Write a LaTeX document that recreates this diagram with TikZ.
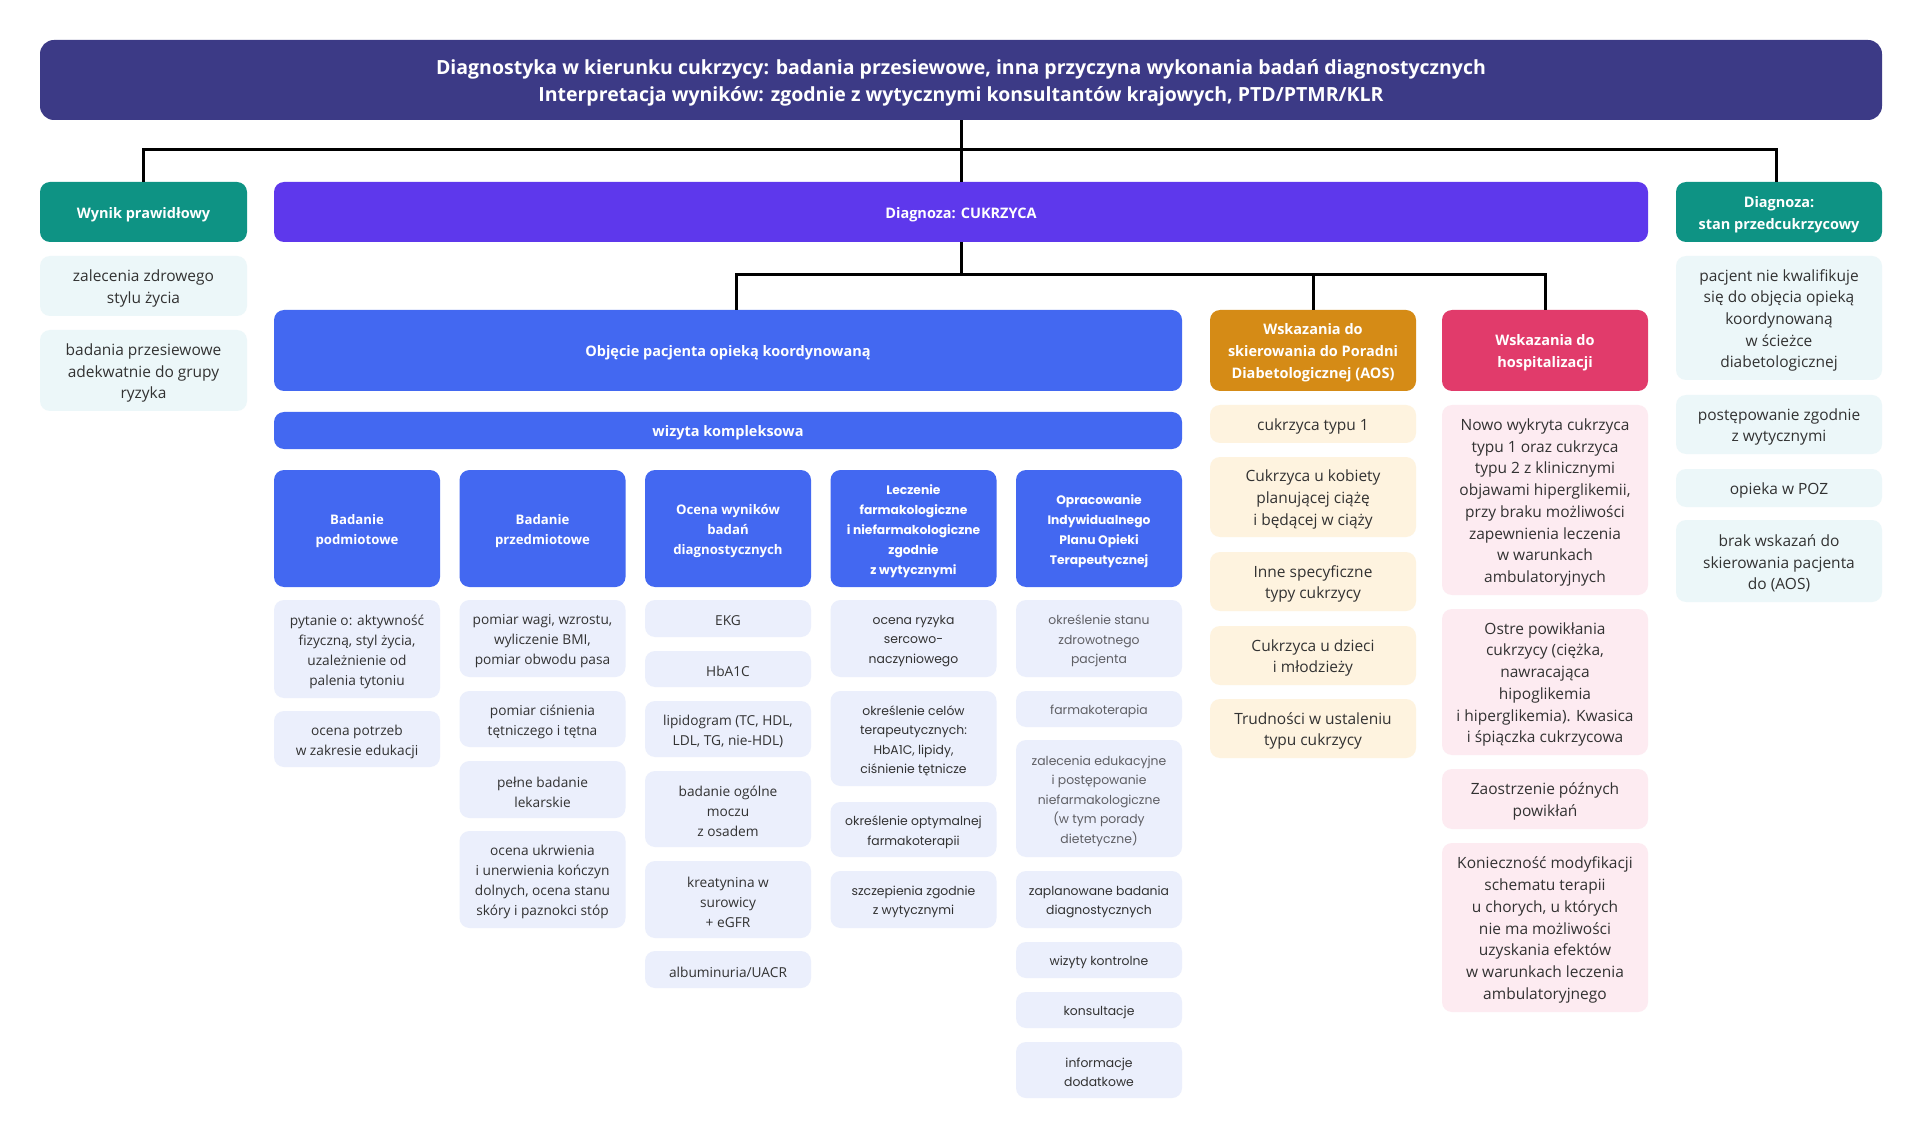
\documentclass[tikz,border=0pt]{standalone}
\usepackage{fontspec}
\setmainfont{Open Sans}
\newfontfamily\popp{Poppins}
\definecolor{ctitle}{RGB}{60,58,134}
\definecolor{cteal}{RGB}{14,147,132}
\definecolor{cpurple}{RGB}{94,56,236}
\definecolor{cblue}{RGB}{67,104,241}
\definecolor{cltblue}{RGB}{235,239,252}
\definecolor{cltteal}{RGB}{236,247,249}
\definecolor{corange}{RGB}{213,139,22}
\definecolor{cltorange}{RGB}{254,243,223}
\definecolor{cpink}{RGB}{225,59,107}
\definecolor{cltpink}{RGB}{253,235,241}
\definecolor{ctext}{RGB}{50,50,50}
\definecolor{cgray}{RGB}{95,95,100}
\newcommand\bx[7]{%
  \node[#6, minimum width={(#4-#2)*1pt}, minimum height={(#5-#3)*1pt}] (#1) at ({(#2+#4)/2},{(#3+#5)/2}) {};
  \node[#6, fill=none, yshift=-2.5pt] (#1t) at (#1.center) {#7};}
\begin{document}
\begin{tikzpicture}[x=1pt,y=-1pt,
  base/.style={rounded corners=10pt, inner sep=0pt, align=center, draw=none},
  hdr/.style={base, text=white, font={\bfseries\fontsize{14.5}{22}\selectfont}},
  titlebox/.style={base, rounded corners=14pt, fill=ctitle, text=white, font={\bfseries\fontsize{19.5}{27}\selectfont}},
  tealhdr/.style={hdr, fill=cteal},
  purphdr/.style={hdr, fill=cpurple},
  bluehdr/.style={hdr, fill=cblue},
  orhdr/.style={hdr, fill=corange},
  pkhdr/.style={hdr, fill=cpink},
  colhdr/.style={base, fill=cblue, text=white, font={\bfseries\fontsize{13.2}{20}\selectfont}},
  colhdrp/.style={base, fill=cblue, text=white, font={\popp\bfseries\fontsize{12.3}{20}\selectfont}},
  item/.style={base, text=ctext, font={\fontsize{15.5}{21.7}\selectfont}},
  tealitem/.style={item, fill=cltteal},
  oritem/.style={item, fill=cltorange},
  pkitem/.style={item, fill=cltpink},
  colitem/.style={base, fill=cltblue, text=ctext, font={\fontsize{13.7}{20}\selectfont}},
  colitemp/.style={base, fill=cltblue, text=ctext, font={\popp\fontsize{12.4}{19.5}\selectfont}},
  colitemg/.style={colitemp, text=cgray},
  conn/.style={draw=black, line width=3pt}
]
\useasboundingbox (0,0) rectangle (1920,1139);
\fill[white] (0,0) rectangle (1920,1139);

% title
\bx{title}{40}{40}{1882}{120}{titlebox}{Diagnostyka w kierunku cukrzycy: badania przesiewowe, inna przyczyna wykonania badań diagnostycznych\\Interpretacja wyników: zgodnie z wytycznymi konsultantów krajowych, PTD/PTMR/KLR}

% second row
\bx{wynik}{40}{182}{247}{242}{tealhdr}{Wynik prawidłowy}
\bx{cuk}{274}{182}{1648}{242}{purphdr}{Diagnoza: CUKRZYCA}
\bx{stan}{1676}{182}{1882}{242}{tealhdr}{Diagnoza:\\stan przedcukrzycowy}

% left column
\bx{l1}{40}{256}{247}{316}{tealitem}{zalecenia zdrowego\\stylu życia}
\bx{l2}{40}{330}{247}{411}{tealitem}{badania przesiewowe\\adekwatnie do grupy\\ryzyka}

% right column
\bx{r1}{1676}{256}{1882}{380}{tealitem}{pacjent nie kwalifikuje\\się do objęcia opieką\\koordynowaną\\w ścieżce\\diabetologicznej}
\bx{r2}{1676}{395}{1882}{454}{tealitem}{postępowanie zgodnie\\z wytycznymi}
\bx{r3}{1676}{469}{1882}{507}{tealitem}{opieka w POZ}
\bx{r4}{1676}{520}{1882}{602}{tealitem}{brak wskazań do\\skierowania pacjenta\\do (AOS)}

% third row
\bx{obj}{274}{310}{1182}{391}{bluehdr}{Objęcie pacjenta opieką koordynowaną}
\bx{aos}{1210}{310}{1416}{391}{orhdr}{Wskazania do\\skierowania do Poradni\\Diabetologicznej (AOS)}
\bx{hosp}{1442}{310}{1648}{391}{pkhdr}{Wskazania do\\hospitalizacji}
\bx{wiz}{274}{412}{1182}{449}{bluehdr}{wizyta kompleksowa}

% column headers
\bx{h1}{274}{470}{440}{587}{colhdr}{Badanie\\podmiotowe}
\bx{h2}{459.5}{470}{625.5}{587}{colhdr}{Badanie\\przedmiotowe}
\bx{h3}{645}{470}{811}{587}{colhdr}{Ocena wyników\\badań\\diagnostycznych}
\bx{h4}{830.5}{470}{996.5}{587}{colhdrp}{Leczenie\\farmakologiczne\\i niefarmakologiczne\\zgodnie\\z wytycznymi}
\bx{h5}{1016}{470}{1182}{587}{colhdrp}{Opracowanie\\Indywidualnego\\Planu Opieki\\Terapeutycznej}

% col 1
\bx{a1}{274}{600}{440}{698}{colitem}{pytanie o: aktywność\\fizyczną, styl życia,\\uzależnienie od\\palenia tytoniu}
\bx{a2}{274}{711}{440}{767}{colitem}{ocena potrzeb\\w zakresie edukacji}

% col 2
\bx{b1}{459.5}{600}{625.5}{677}{colitem}{pomiar wagi, wzrostu,\\wyliczenie BMI,\\pomiar obwodu pasa}
\bx{b2}{459.5}{691}{625.5}{747}{colitem}{pomiar ciśnienia\\tętniczego i tętna}
\bx{b3}{459.5}{761}{625.5}{818}{colitem}{pełne badanie\\lekarskie}
\bx{b4}{459.5}{831}{625.5}{928}{colitem}{ocena ukrwienia\\i unerwienia kończyn\\dolnych, ocena stanu\\skóry i paznokci stóp}

% col 3
\bx{c1}{645}{600}{811}{637}{colitem}{EKG}
\bx{c2}{645}{651}{811}{687}{colitem}{HbA1C}
\bx{c3}{645}{701}{811}{757}{colitem}{lipidogram (TC, HDL,\\LDL, TG, nie-HDL)}
\bx{c4}{645}{771}{811}{847}{colitem}{badanie ogólne\\moczu\\z osadem}
\bx{c5}{645}{861}{811}{938}{colitem}{kreatynina w\\surowicy\\+ eGFR}
\bx{c6}{645}{951}{811}{988}{colitem}{albuminuria/UACR}

% col 4
\bx{d1}{830.5}{600}{996.5}{677}{colitemp}{ocena ryzyka\\sercowo-\\naczyniowego}
\bx{d2}{830.5}{691}{996.5}{786}{colitemp}{określenie celów\\terapeutycznych:\\HbA1C, lipidy,\\ciśnienie tętnicze}
\bx{d3}{830.5}{802}{996.5}{857}{colitemp}{określenie optymalnej\\farmakoterapii}
\bx{d4}{830.5}{871}{996.5}{928}{colitemp}{szczepienia zgodnie\\z wytycznymi}

% col 5
\bx{e1}{1016}{600}{1182}{677}{colitemg}{określenie stanu\\zdrowotnego\\pacjenta}
\bx{e2}{1016}{691}{1182}{727}{colitemg}{farmakoterapia}
\bx{e3}{1016}{740}{1182}{857}{colitemg}{zalecenia edukacyjne\\i postępowanie\\niefarmakologiczne\\(w tym porady\\dietetyczne)}
\bx{e4}{1016}{871}{1182}{928}{colitemp}{zaplanowane badania\\diagnostycznych}
\bx{e5}{1016}{942}{1182}{978}{colitemp}{wizyty kontrolne}
\bx{e6}{1016}{992}{1182}{1028}{colitemp}{konsultacje}
\bx{e7}{1016}{1042}{1182}{1098}{colitemp}{informacje\\dodatkowe}

% AOS column
\bx{o1}{1210}{405}{1416}{443}{oritem}{cukrzyca typu 1}
\bx{o2}{1210}{457}{1416}{537}{oritem}{Cukrzyca u kobiety\\planującej ciążę\\i będącej w ciąży}
\bx{o3}{1210}{552}{1416}{611}{oritem}{Inne specyficzne\\typy cukrzycy}
\bx{o4}{1210}{626}{1416}{685}{oritem}{Cukrzyca u dzieci\\i młodzieży}
\bx{o5}{1210}{699}{1416}{758}{oritem}{Trudności w ustaleniu\\typu cukrzycy}

% hospital column
\bx{p1}{1442}{405}{1648}{595}{pkitem}{Nowo wykryta cukrzyca\\typu 1 oraz cukrzyca\\typu 2 z klinicznymi\\objawami hiperglikemii,\\przy braku możliwości\\zapewnienia leczenia\\w warunkach\\ambulatoryjnych}
\bx{p2}{1442}{609}{1648}{755}{pkitem}{Ostre powikłania\\cukrzycy (ciężka,\\nawracająca\\hipoglikemia\\i hiperglikemia). Kwasica\\i śpiączka cukrzycowa}
\bx{p3}{1442}{769}{1648}{829}{pkitem}{Zaostrzenie późnych\\powikłań}
\bx{p4}{1442}{843}{1648}{1012}{pkitem}{Konieczność modyfikacji\\schematu terapii\\u chorych, u których\\nie ma możliwości\\uzyskania efektów\\w warunkach leczenia\\ambulatoryjnego}

% connectors
\coordinate (j1) at (961,150);
\coordinate (j2) at (961,275);
\draw[conn] (title.south) -- (cuk.north);
\draw[conn] (wynik.north) |- (j1) -| ([xshift=-3pt]stan.north);
\draw[conn] (cuk.south) -- (j2);
\draw[conn] ([xshift=8pt]obj.north) |- (j2) -| (hosp.north);
\draw[conn] (aos.north) -- (aos.north |- j2);
\end{tikzpicture}
\end{document}
